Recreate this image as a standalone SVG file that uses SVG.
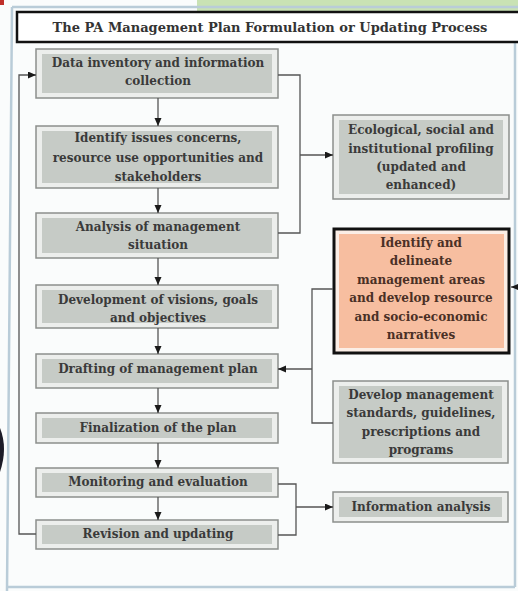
<svg xmlns="http://www.w3.org/2000/svg" width="518" height="591" viewBox="0 0 518 591">
<defs>
<style>
.bg{fill:#fafcfc}
.frame{fill:none;stroke:#b9ccd8;stroke-width:2.5}
.outer{fill:#eceeec;stroke:#8c8f8c;stroke-width:1.5}
.inner{fill:#c6cbc6}
.txt{font-family:"DejaVu Serif",serif;font-weight:bold;font-size:12px;fill:#3a3a3a;text-anchor:middle}
.otxt{fill:#4a3026}
.title{font-family:"DejaVu Serif",serif;font-weight:bold;font-size:13px;fill:#333;text-anchor:middle}
.conn{fill:none;stroke:#555;stroke-width:1.3}
</style>
<marker id="ah" markerUnits="userSpaceOnUse" markerWidth="9" markerHeight="8" refX="8" refY="3.5" orient="auto">
<path d="M0,0 L8,3.5 L0,7 z" fill="#1a1a1a"/>
</marker>
</defs>
<rect class="bg" x="0" y="0" width="518" height="591"/>
<rect x="197" y="0" width="321" height="12" fill="#c9e2b4"/>
<rect x="0" y="0" width="4" height="5" fill="#c0302a"/>
<path class="frame" d="M12,7 H518 M12,7 L7,591 M515,20 V587 M7,587 H515"/>
<path d="M0,428 Q8,448 0,472 Z" fill="#1c1c28"/>

<g id="title">
<rect x="17" y="12" width="510" height="30" fill="#fff" stroke="#111" stroke-width="2.5"/>
<text class="title" x="270" y="32">The PA Management Plan Formulation or Updating Process</text>
</g>

<g id="n1">
<rect class="outer" x="36" y="49" width="242" height="49"/>
<rect class="inner" x="42" y="54" width="230" height="39"/>
<text class="txt" x="158" y="67">Data inventory and information</text>
<text class="txt" x="158" y="85">collection</text>
</g>
<g id="n2">
<rect class="outer" x="36" y="126" width="242" height="62"/>
<rect class="inner" x="42" y="131" width="230" height="52"/>
<text class="txt" x="158" y="142">Identify issues concerns,</text>
<text class="txt" x="158" y="162">resource use opportunities and</text>
<text class="txt" x="158" y="181">stakeholders</text>
</g>
<g id="n3">
<rect class="outer" x="36" y="213" width="242" height="45"/>
<rect class="inner" x="42" y="218" width="230" height="35"/>
<text class="txt" x="158" y="231">Analysis of management</text>
<text class="txt" x="158" y="249">situation</text>
</g>
<g id="n4">
<rect class="outer" x="36" y="285" width="242" height="43"/>
<rect class="inner" x="42" y="290" width="230" height="33"/>
<text class="txt" x="158" y="304">Development of visions, goals</text>
<text class="txt" x="158" y="322">and objectives</text>
</g>
<g id="n5">
<rect class="outer" x="36" y="354" width="242" height="34"/>
<rect class="inner" x="42" y="359" width="230" height="24"/>
<text class="txt" x="158" y="373">Drafting of management plan</text>
</g>
<g id="n6">
<rect class="outer" x="36" y="413" width="242" height="30"/>
<rect class="inner" x="42" y="418" width="230" height="20"/>
<text class="txt" x="158" y="432">Finalization of the plan</text>
</g>
<g id="n7">
<rect class="outer" x="36" y="468" width="242" height="29"/>
<rect class="inner" x="42" y="473" width="230" height="19"/>
<text class="txt" x="158" y="486">Monitoring and evaluation</text>
</g>
<g id="n8">
<rect class="outer" x="36" y="520" width="242" height="29"/>
<rect class="inner" x="42" y="525" width="230" height="19"/>
<text class="txt" x="158" y="538">Revision and updating</text>
</g>

<g id="n9">
<rect class="outer" x="333" y="115" width="176" height="84"/>
<rect class="inner" x="339" y="120" width="164" height="74"/>
<text class="txt" x="421" y="134">Ecological, social and</text>
<text class="txt" x="421" y="153">institutional profiling</text>
<text class="txt" x="421" y="171">(updated and</text>
<text class="txt" x="421" y="189">enhanced)</text>
</g>
<g id="n10">
<rect x="334" y="229" width="175" height="124" fill="#fbeee6" stroke="#111" stroke-width="3"/>
<rect x="339" y="234" width="165" height="114" fill="#f7bea0"/>
<text class="txt otxt" x="421" y="247">Identify and</text>
<text class="txt otxt" x="421" y="265">delineate</text>
<text class="txt otxt" x="421" y="284">management areas</text>
<text class="txt otxt" x="421" y="302">and develop resource</text>
<text class="txt otxt" x="421" y="321">and socio-economic</text>
<text class="txt otxt" x="421" y="339">narratives</text>
</g>
<g id="n11">
<rect class="outer" x="333" y="381" width="175" height="82"/>
<rect class="inner" x="339" y="386" width="163" height="72"/>
<text class="txt" x="421" y="399">Develop management</text>
<text class="txt" x="421" y="417">standards, guidelines,</text>
<text class="txt" x="421" y="436">prescriptions and</text>
<text class="txt" x="421" y="454">programs</text>
</g>
<g id="n12">
<rect class="outer" x="333" y="492" width="175" height="30"/>
<rect class="inner" x="339" y="497" width="163" height="20"/>
<text class="txt" x="421" y="511">Information analysis</text>
</g>

<g id="connectors">
<path class="conn" marker-end="url(#ah)" d="M158,98 V126"/>
<path class="conn" marker-end="url(#ah)" d="M158,188 V213"/>
<path class="conn" marker-end="url(#ah)" d="M158,258 V285"/>
<path class="conn" marker-end="url(#ah)" d="M158,328 V354"/>
<path class="conn" marker-end="url(#ah)" d="M158,388 V413"/>
<path class="conn" marker-end="url(#ah)" d="M158,443 V468"/>
<path class="conn" marker-end="url(#ah)" d="M158,497 V520"/>
<path class="conn" marker-end="url(#ah)" d="M36,534 H19 V75 H36"/>
<path class="conn" d="M278,75 H300 V233 H278"/>
<path class="conn" marker-end="url(#ah)" d="M300,155 H333"/>
<path class="conn" d="M333,289 H312 V423 H333"/>
<path class="conn" marker-end="url(#ah)" d="M312,369 H278"/>
<path class="conn" d="M278,484 H296 V535 H278"/>
<path class="conn" marker-end="url(#ah)" d="M296,507 H333"/>
<path class="conn" marker-end="url(#ah)" d="M518,287 H511"/>
</g>
</svg>
